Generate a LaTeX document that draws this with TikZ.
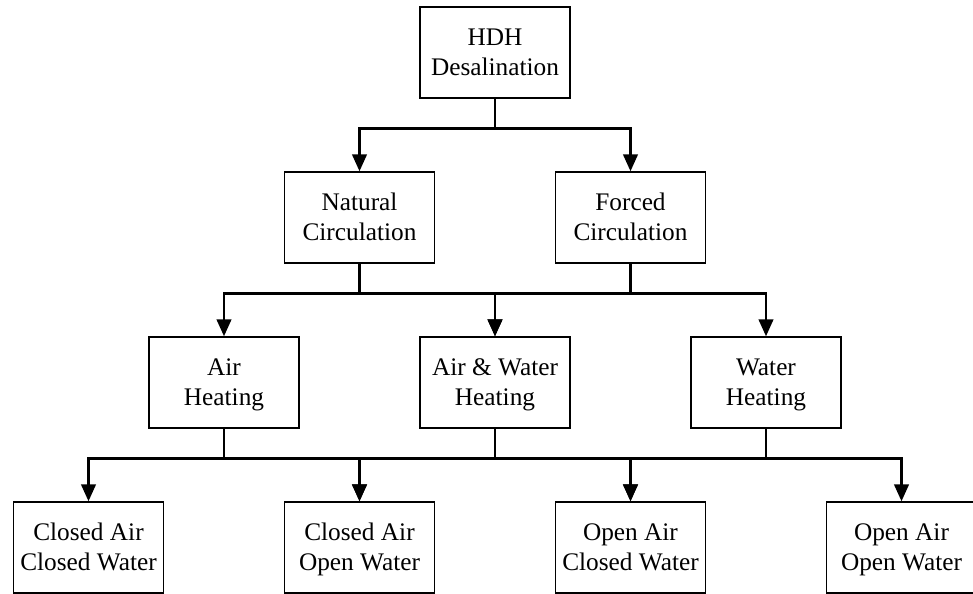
\documentclass[tikz,border=0pt]{standalone}
\usepackage{fontspec}
\setmainfont{Liberation Serif}
\usetikzlibrary{arrows.meta}
\tikzstyle{branch}=[rectangle,minimum width=3.75cm,minimum height=2.275cm,
text centered,align=center,text height=34pt,text depth=0.6pt,
draw=black,line width=1pt,font=\fontsize{18}{22}\selectfont]
\tikzstyle{arrow}=[line width=1.8pt,-{Triangle[width=0.36cm,length=0.42cm]}]

\begin{document}
\begin{tikzpicture}[node distance=4.125cm]
        \useasboundingbox (0,0) rectangle (24.325,-14.85);
        \node (hdh) [branch] at (12.375,-1.3125) {HDH\\Desalination};
        \node (nat) [branch,below of=hdh,xshift=-3.3875cm] {Natural\\Circulation};
        \node (forc) [branch,below of=hdh,xshift=3.3875cm] {Forced\\Circulation};
        \node (airh) [branch,below of=nat,xshift=-3.3875cm] {Air\\Heating};
        \node (awh) [branch,below of=nat,xshift=3.3875cm] {Air \& Water\\Heating};
        \node (wath) [branch,below of=forc,xshift=3.3875cm] {Water\\Heating};
        \node (cacw) [branch,below of=airh,xshift=-3.3875cm] {Closed Air\\Closed Water};
        \node (caow) [branch,below of=airh,xshift=3.3875cm] {Closed Air\\Open Water};
        \node (oacw) [branch,below of=wath,xshift=-3.3875cm] {Open Air\\Closed Water};
        \node (oaow) [branch,below of=wath,xshift=3.3875cm] {Open Air\\Open Water};

        \draw [arrow] (hdh.south) -- ++(0,-0.75) -| (nat.north);
        \draw [arrow] (hdh.south) -- ++(0,-0.75) -| (forc.north);
        \draw [arrow] (nat.south) -- ++(0,-0.75) -| (airh.north);
        \draw [arrow] (nat.south) -- ++(0,-0.75) -| (awh.north);
        \draw [arrow] (forc.south) -- ++(0,-0.75) -| (awh.north);
        \draw [arrow] (forc.south) -- ++(0,-0.75) -| (wath.north);
        \draw [arrow] (airh.south) -- ++(0,-0.75) -| (cacw.north);
        \draw [arrow] (airh.south) -- ++(0,-0.75) -| (caow.north);
        \draw [arrow] (awh.south) -- ++(0,-0.75) -| (caow.north);
        \draw [arrow] (awh.south) -- ++(0,-0.75) -| (oacw.north);
        \draw [arrow] (wath.south) -- ++(0,-0.75) -| (oacw.north);
        \draw [arrow] (wath.south) -- ++(0,-0.75) -| (oaow.north);

    \end{tikzpicture}
\end{document}
